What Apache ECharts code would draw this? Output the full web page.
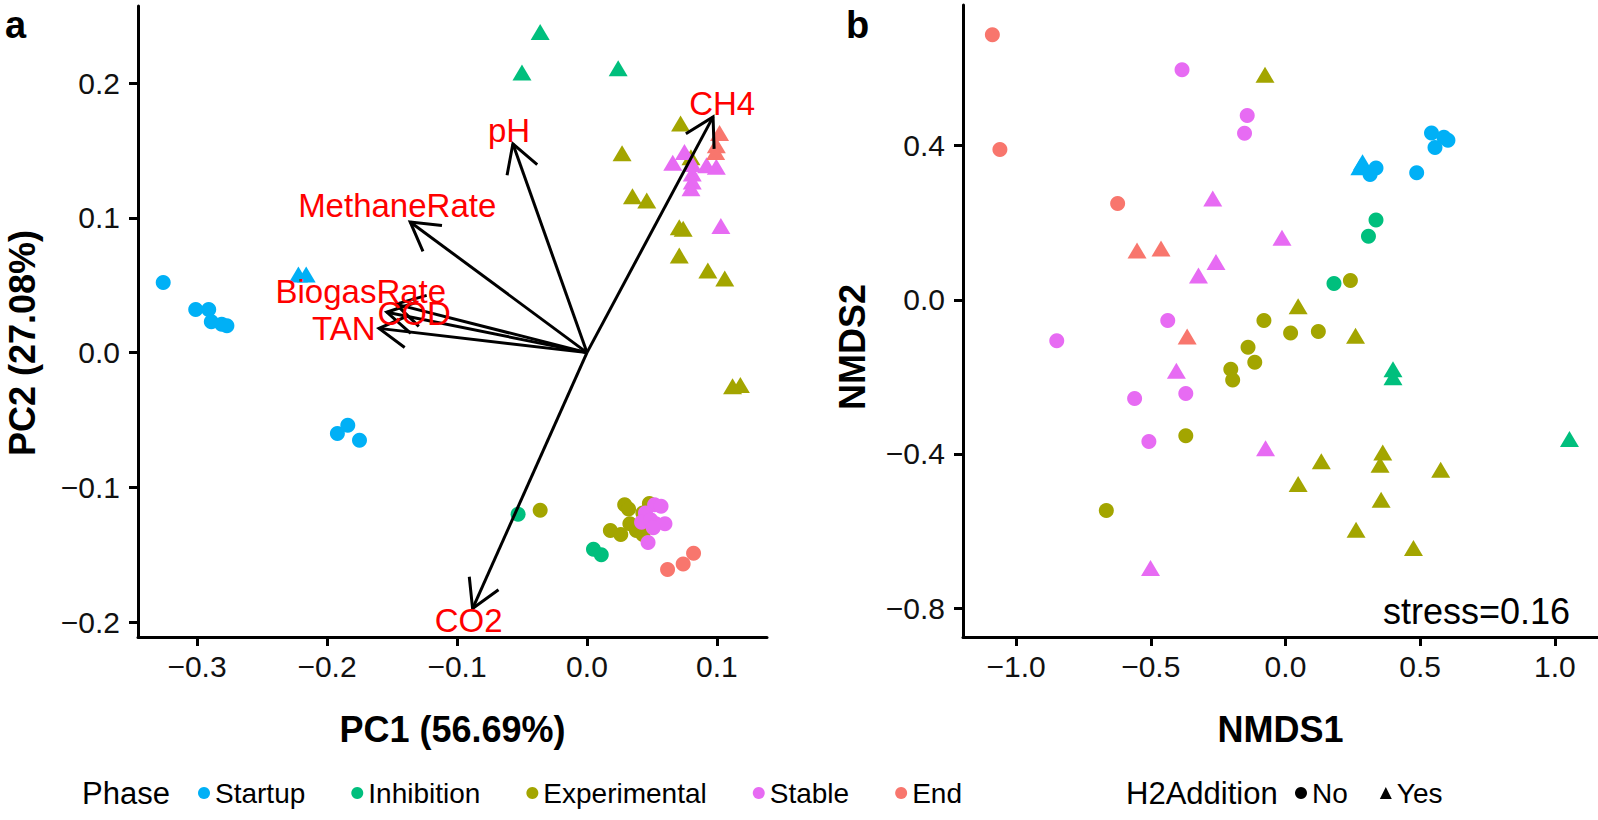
<!DOCTYPE html>
<html>
<head>
<meta charset="utf-8">
<script src="https://cdn.jsdelivr.net/npm/echarts@6/dist/echarts.min.js"></script>
<style>
  html, body { margin: 0; padding: 0; background: #fff; }
  #main { width: 1598px; height: 820px; }
</style>
</head>
<body>
<div id="main"></div>
<script>
// phases and colours (ggplot hue palette)
const phases = ['Startup', 'Inhibition', 'Experimental', 'Stable', 'End'];
const phaseColors = ['#00B0F6', '#00BF7D', '#A3A500', '#E76BF3', '#F8766D'];

// PCA scores: [PC1, PC2, H2Addition (0 = No, 1 = Yes)]
const pcaStartup = [[-0.326, 0.052, 0], [-0.301, 0.032, 0], [-0.291, 0.032, 0], [-0.289, 0.023, 0], [-0.281, 0.021, 0], [-0.277, 0.020, 0],
  [-0.222, 0.058, 1], [-0.216, 0.058, 1], [-0.192, -0.060, 0], [-0.184, -0.054, 0], [-0.175, -0.065, 0]];
const pcaInhibition = [[-0.036, 0.238, 1], [-0.050, 0.208, 1], [0.024, 0.211, 1], [-0.053, -0.120, 0], [0.005, -0.146, 0], [0.011, -0.150, 0]];
const pcaExperimental = [[0.072, 0.170, 1], [0.080, 0.145, 1], [0.027, 0.148, 1], [0.035, 0.116, 1], [0.046, 0.113, 1], [0.071, 0.093, 1],
  [0.074, 0.092, 1], [0.071, 0.072, 1], [0.093, 0.061, 1], [0.106, 0.055, 1], [0.112, -0.025, 1], [0.118, -0.024, 1],
  [-0.036, -0.117, 0], [0.029, -0.113, 0], [0.032, -0.116, 0], [0.048, -0.112, 0], [0.043, -0.119, 0], [0.033, -0.127, 0],
  [0.018, -0.132, 0], [0.026, -0.135, 0], [0.038, -0.132, 0], [0.043, -0.135, 0]];
const pcaStable = [[0.066, 0.141, 1], [0.075, 0.149, 1], [0.081, 0.140, 1], [0.092, 0.139, 1], [0.0995, 0.138, 1], [0.081, 0.133, 1],
  [0.081, 0.127, 1], [0.080, 0.122, 1], [0.103, 0.094, 1], [0.052, -0.113, 0], [0.057, -0.114, 0], [0.045, -0.119, 0],
  [0.042, -0.126, 0], [0.049, -0.124, 0], [0.053, -0.127, 0], [0.060, -0.127, 0], [0.051, -0.130, 0], [0.047, -0.141, 0]];
const pcaEnd = [[0.102, 0.163, 1], [0.0995, 0.154, 1], [0.099, 0.149, 1], [0.062, -0.161, 0], [0.074, -0.157, 0], [0.082, -0.149, 0]];

// PCA loadings (arrow tips) and their label positions
const loadNames = ['CH4', 'pH', 'MethaneRate', 'BiogasRate', 'COD', 'TAN', 'CO2'];
const loadX = [0.097, -0.057, -0.136, -0.147, -0.154, -0.160, -0.088];
const loadY = [0.175, 0.155, 0.097, 0.036, 0.030, 0.018, -0.190];
const labelX = [0.104, -0.060, -0.146, -0.174, -0.133, -0.187, -0.091];
const labelY = [0.185, 0.165, 0.109, 0.045, 0.029, 0.018, -0.199];

// NMDS scores: [NMDS1, NMDS2, H2Addition]
const nmdsStartup = [[0.286, 0.357, 1], [0.276, 0.344, 1], [0.336, 0.342, 0], [0.314, 0.325, 0], [0.487, 0.330, 0],
  [0.542, 0.433, 0], [0.555, 0.395, 0], [0.588, 0.422, 0], [0.603, 0.414, 0]];
const nmdsInhibition = [[0.336, 0.207, 0], [0.308, 0.165, 0], [0.180, 0.042, 0], [0.399, -0.180, 1], [0.399, -0.201, 1], [1.054, -0.361, 1]];
const nmdsExperimental = [[-0.076, 0.584, 1], [0.047, -0.017, 1], [0.241, 0.050, 0], [-0.080, -0.054, 0], [0.019, -0.086, 0],
  [0.122, -0.082, 0], [0.260, -0.093, 1], [-0.139, -0.123, 0], [-0.114, -0.162, 0], [-0.203, -0.180, 0], [-0.196, -0.208, 0],
  [-0.370, -0.353, 0], [0.133, -0.419, 1], [0.361, -0.396, 1], [0.351, -0.428, 1], [0.576, -0.441, 1], [0.047, -0.478, 1],
  [0.355, -0.519, 1], [-0.665, -0.547, 0], [0.262, -0.597, 1], [0.475, -0.644, 1]];
const nmdsStable = [[-0.384, 0.597, 0], [-0.142, 0.478, 0], [-0.152, 0.432, 0], [-0.270, 0.263, 1], [-0.013, 0.161, 1],
  [-0.258, 0.098, 1], [-0.323, 0.063, 1], [-0.437, -0.054, 0], [-0.849, -0.106, 0], [-0.405, -0.184, 1], [-0.560, -0.256, 0],
  [-0.370, -0.243, 0], [-0.507, -0.368, 0], [-0.074, -0.385, 1], [-0.501, -0.696, 1]];
const nmdsEnd = [[-1.088, 0.688, 0], [-1.060, 0.390, 0], [-0.623, 0.250, 0], [-0.551, 0.128, 1], [-0.462, 0.133, 1], [-0.365, -0.095, 1]];

// tick values
const pcaXTicks = [-0.3, -0.2, -0.1, 0, 0.1];
const pcaYTicks = [-0.2, -0.1, 0, 0.1, 0.2];
const nmdsXTicks = [-1, -0.5, 0, 0.5, 1];
const nmdsYTicks = [-0.8, -0.4, 0, 0.4];

const pcaData = [pcaStartup, pcaInhibition, pcaExperimental, pcaStable, pcaEnd];
const nmdsData = [nmdsStartup, nmdsInhibition, nmdsExperimental, nmdsStable, nmdsEnd];

const FONT = '"Liberation Sans", Arial, Helvetica, sans-serif';

const fmt = v => (v < 0 ? '\u2212' : '') + Math.abs(v).toFixed(1);

function makeAxis(dim, gridIndex, min, max, ticks, name) {
  const ax = {
    type: 'value',
    gridIndex: gridIndex,
    min: min,
    max: max,
    splitLine: { show: false },
    axisLine: { show: true, onZero: false, lineStyle: { color: '#000', width: 3 } },
    axisTick: { show: true, customValues: ticks, length: 9, lineStyle: { color: '#000', width: 3 } },
    axisLabel: { customValues: ticks, formatter: fmt, color: '#111', fontSize: 30, fontFamily: FONT, margin: 14 }
  };
  if (dim === 'y') ax.axisLabel.margin = 18;
  if (name) {
    ax.name = name;
    ax.nameLocation = 'middle';
    ax.nameGap = 74;
    ax.nameTextStyle = { fontSize: 36, fontWeight: 'bold', color: '#000', fontFamily: FONT };
  }
  return ax;
}

const series = [];
[pcaData, nmdsData].forEach(function (panel, p) {
  panel.forEach(function (d, i) {
    series.push({
      name: phases[i],
      type: 'scatter',
      xAxisIndex: p,
      yAxisIndex: p,
      data: d,
      symbol: function (v) { return v[2] ? 'triangle' : 'circle'; },
      symbolSize: function (v) { return v[2] ? [19, 16] : 15; },
      itemStyle: { color: phaseColors[i], opacity: 1 },
      silent: true,
      z: 2
    });
  });
});

// loading arrows
series.push({
  type: 'custom',
  xAxisIndex: 0,
  yAxisIndex: 0,
  data: loadX.map((x, i) => [x, loadY[i]]),
  silent: true,
  clip: false,
  z: 3,
  renderItem: function (params, api) {
    const o = api.coord([0, 0]);
    const t = api.coord([api.value(0), api.value(1)]);
    const ang = Math.atan2(t[1] - o[1], t[0] - o[0]);
    const L = 32, a = Math.PI / 6;
    const p1 = [t[0] - L * Math.cos(ang - a), t[1] - L * Math.sin(ang - a)];
    const p2 = [t[0] - L * Math.cos(ang + a), t[1] - L * Math.sin(ang + a)];
    return {
      type: 'group',
      children: [
        { type: 'line', shape: { x1: o[0], y1: o[1], x2: t[0], y2: t[1] }, style: { stroke: '#000', lineWidth: 3 } },
        { type: 'polyline', shape: { points: [p1, t, p2] }, style: { stroke: '#000', lineWidth: 3, fill: null } }
      ]
    };
  }
});

// loading labels
series.push({
  type: 'scatter',
  xAxisIndex: 0,
  yAxisIndex: 0,
  symbolSize: 0,
  silent: true,
  z: 4,
  itemStyle: { color: '#FF0000', opacity: 1 },
  data: loadNames.map((n, i) => ({ name: n, value: [labelX[i], labelY[i]] })),
  label: {
    show: true, position: 'inside', formatter: '{b}', color: '#FF0000', opacity: 1, fontSize: 33, fontFamily: FONT,
    textBorderWidth: 0, textShadowBlur: 0
  }
});

// dummy series for the H2Addition legend
series.push({ name: 'No', type: 'scatter', xAxisIndex: 0, yAxisIndex: 0, data: [], itemStyle: { color: '#000', opacity: 1 } });
series.push({ name: 'Yes', type: 'scatter', xAxisIndex: 0, yAxisIndex: 0, data: [], itemStyle: { color: '#000', opacity: 1 } });

const chart = echarts.init(document.getElementById('main'), null, { renderer: 'svg' });

const option = {
  animation: false,
  backgroundColor: '#fff',
  grid: [
    { left: 138, top: 6, width: 629, height: 631 },
    { left: 963, top: 5, width: 635, height: 632 }
  ],
  xAxis: [
    makeAxis('x', 0, -0.3454, 0.1385, pcaXTicks, 'PC1 (56.69%)'),
    makeAxis('x', 1, -1.197, 1.16, nmdsXTicks, 'NMDS1')
  ],
  yAxis: [
    makeAxis('y', 0, -0.2111, 0.2573, pcaYTicks),
    makeAxis('y', 1, -0.875, 0.765, nmdsYTicks)
  ],
  legend: [
    {
      left: 198, top: 778, padding: 0, itemGap: 46, itemWidth: 12, itemHeight: 12,
      textStyle: { fontSize: 28, fontFamily: FONT, color: '#000', lineHeight: 30 },
      data: phases.map(n => ({ name: n, icon: 'circle' })),
      selectedMode: false
    },
    {
      left: 1295, top: 778, padding: 0, itemGap: 32, itemWidth: 12, itemHeight: 12,
      textStyle: { fontSize: 28, fontFamily: FONT, color: '#000', lineHeight: 30 },
      data: [{ name: 'No', icon: 'circle' }, { name: 'Yes', icon: 'triangle' }],
      selectedMode: false
    }
  ],
  graphic: [
    { type: 'text', x: 5, y: 25, style: { text: 'a', fontSize: 38, fontWeight: 'bold', fontFamily: FONT, fill: '#000', align: 'left', verticalAlign: 'middle' } },
    { type: 'text', x: 846, y: 25, style: { text: 'b', fontSize: 38, fontWeight: 'bold', fontFamily: FONT, fill: '#000', align: 'left', verticalAlign: 'middle' } },
    { type: 'text', x: 22, y: 343, rotation: Math.PI / 2, style: { text: 'PC2 (27.08%)', fontSize: 36, fontWeight: 'bold', fontFamily: FONT, fill: '#000', align: 'center', verticalAlign: 'middle' } },
    { type: 'text', x: 852, y: 347, rotation: Math.PI / 2, style: { text: 'NMDS2', fontSize: 36, fontWeight: 'bold', fontFamily: FONT, fill: '#000', align: 'center', verticalAlign: 'middle' } },
    { type: 'text', x: 1570, y: 611, style: { text: 'stress=0.16', fontSize: 36, fontFamily: FONT, fill: '#000', align: 'right', verticalAlign: 'middle' } },
    { type: 'text', x: 82, y: 793, style: { text: 'Phase', fontSize: 31, fontFamily: FONT, fill: '#000', align: 'left', verticalAlign: 'middle' } },
    { type: 'text', x: 1126, y: 793, style: { text: 'H2Addition', fontSize: 31, fontFamily: FONT, fill: '#000', align: 'left', verticalAlign: 'middle' } }
  ],
  series: series
};

chart.setOption(option);
</script>
</body>
</html>
